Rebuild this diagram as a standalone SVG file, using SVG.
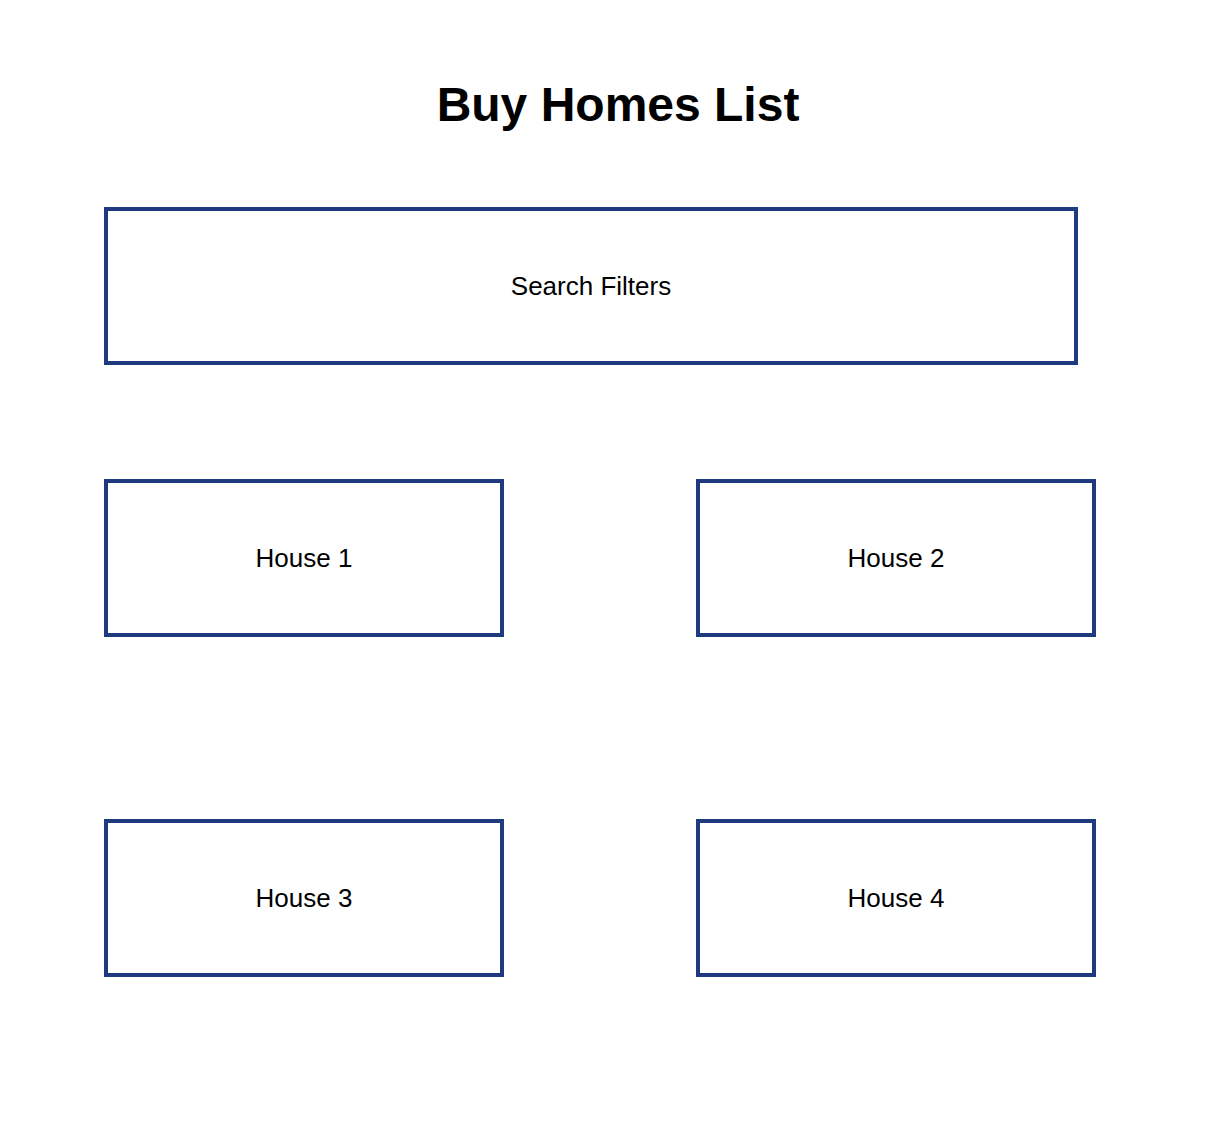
<svg xmlns="http://www.w3.org/2000/svg" width="1224" height="1126" viewBox="0 0 1224 1126">
<style>
.box{fill:#fff;stroke:#1f3a7e;stroke-width:4}
.lbl{font-family:"Liberation Sans",Arial,sans-serif;font-size:26px;fill:#000;text-anchor:middle;dominant-baseline:central}
.title{font-family:"Liberation Sans",Arial,sans-serif;font-size:48px;font-weight:bold;fill:#000;text-anchor:middle}
</style>
<rect width="1224" height="1126" fill="#fff"/>
<text class="title" x="618" y="121">Buy Homes List</text>
<g id="search-filters"><rect class="box" x="106" y="209" width="970" height="154"/><text class="lbl" x="591" y="286">Search Filters</text></g>
<g id="house-1"><rect class="box" x="106" y="481" width="396" height="154"/><text class="lbl" x="304" y="558">House 1</text></g>
<g id="house-2"><rect class="box" x="698" y="481" width="396" height="154"/><text class="lbl" x="896" y="558">House 2</text></g>
<g id="house-3"><rect class="box" x="106" y="821" width="396" height="154"/><text class="lbl" x="304" y="898">House 3</text></g>
<g id="house-4"><rect class="box" x="698" y="821" width="396" height="154"/><text class="lbl" x="896" y="898">House 4</text></g>
<g id="connectors"></g>
</svg>
